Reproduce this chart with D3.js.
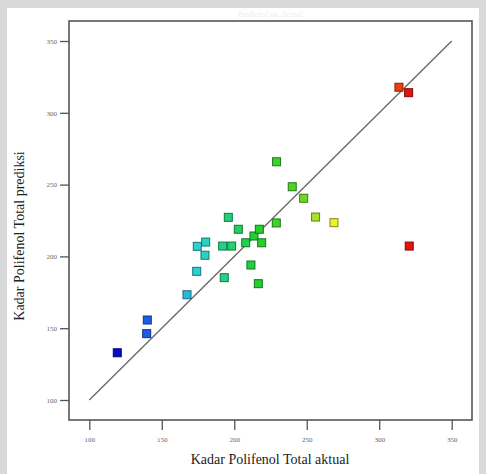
<!DOCTYPE html>
<html>
<head>
	<meta charset="utf-8"/>
	<script src="https://cdn.jsdelivr.net/npm/d3@7/dist/d3.min.js"></script>
	<style>
		body{margin:0;background:#d9d9d9;}
		svg{display:block;}
	</style>
</head>
<body>
<script>
	// actual vs predicted values
	var aktual = [119.3,140.0,139.6,167.4,174.1,174.5,180.3,179.8,195.9,192.0,198.2,193.1,202.8,207.9,213.6,217.3,218.9,211.5,216.6,229.0,229.2,240.0,247.9,256.1,268.8,320.7,313.6,320.3];
	var prediksi = [132.9,155.7,146.2,173.3,189.6,207.0,210.0,200.8,227.2,207.2,207.2,185.2,218.9,209.5,214.2,218.9,209.5,194.0,181.0,223.3,265.9,248.5,240.5,227.4,223.5,207.2,317.8,314.0];
	var ticks = [100,150,200,250,300,350];
	var judulX = "Kadar Polifenol Total aktual";
	var judulY = "Kadar Polifenol Total prediksi";

	var W = 486, H = 474;
	var svg = d3.select('body').append('svg').attr('width',W).attr('height',H);

	svg.append('rect').attr('x',7).attr('y',8).attr('width',472).attr('height',H-8).attr('fill','#fff');

	// faint title at the top
	svg.append('text').attr('x',270).attr('y',17).attr('text-anchor','middle')
		.attr('font-family','Liberation Serif').attr('font-size',8).attr('fill','#eeeeee')
		.text('Predicted vs. Actual');

	var x = d3.scaleLinear().domain([100,350]).range([89.3,451.7]);
	var y = d3.scaleLinear().domain([100,350]).range([400,41]);

	var warna = d3.scaleLinear()
		.domain([119,140,175,195,215,245,258,270,314,321])
		.range(['#0a0ac8','#1a5ee6','#2ad4d4','#22d27c','#1fd02e','#5ad424','#b4e42a','#f2f22a','#ec3a12','#e01010']);

	// frame
	svg.append('rect').attr('x',69).attr('y',21).attr('width',403).attr('height',399)
		.attr('fill','none').attr('stroke','#555').attr('stroke-width',1.6);

	var ax = svg.append('g').attr('transform','translate(0,420)')
		.call(d3.axisBottom(x).tickValues(ticks).tickSize(10).tickPadding(7));
	var ay = svg.append('g').attr('transform','translate(69,0)')
		.call(d3.axisLeft(y).tickValues(ticks).tickSize(9).tickPadding(3));
	[ax,ay].forEach(function(a){
		a.select('.domain').remove();
		a.selectAll('line').attr('stroke','#555').attr('stroke-width',1.3);
		a.selectAll('text').attr('font-family','Liberation Serif').attr('font-size',7).attr('fill','#666');
	});

	// 1:1 line
	svg.append('line')
		.attr('x1',x(100)).attr('y1',y(100)).attr('x2',x(350)).attr('y2',y(350))
		.attr('stroke','#666').attr('stroke-width',1.3);

	var dd = aktual.map(function(v,i){return {a:v,p:prediksi[i]};});
	svg.selectAll('rect.pt').data(dd).enter().append('rect')
		.attr('class','pt')
		.attr('x',function(d){return x(d.a)-4;})
		.attr('y',function(d){return y(d.p)-4;})
		.attr('width',8).attr('height',8)
		.attr('fill',function(d){return warna(d.a);})
		.attr('stroke',function(d){return d3.color(warna(d.a)).darker(1.6);})
		.attr('stroke-width',1);

	svg.append('text').attr('x',270).attr('y',464).attr('text-anchor','middle')
		.attr('font-family','Liberation Serif').attr('font-size',14).attr('fill','#222')
		.text(judulX);
	svg.append('text').attr('transform','translate(24,236) rotate(-90)').attr('text-anchor','middle')
		.attr('font-family','Liberation Serif').attr('font-size',14).attr('fill','#222')
		.text(judulY);
</script>
</body>
</html>
